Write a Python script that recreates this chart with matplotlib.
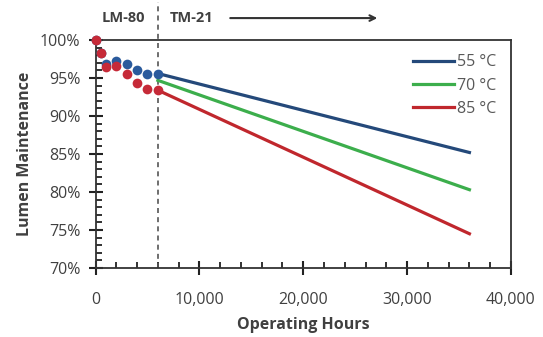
import matplotlib.pyplot as plt
from matplotlib.ticker import MultipleLocator, FuncFormatter

plt.rcParams['font.family'] = ['Open Sans', 'DejaVu Sans']

# LM-80 measured points
hours_lm80 = [0, 500, 1000, 2000, 3000, 4000, 5000, 6000]
lm_55 = [100, 98.3, 96.9, 97.3, 96.8, 96.05, 95.6, 95.6]
lm_85 = [100, 98.3, 96.4, 96.6, 95.6, 94.3, 93.55, 93.4]

# TM-21 projections
hours_tm21 = [6000, 36000]
tm_55 = [95.6, 85.2]
tm_70 = [94.7, 80.3]
tm_85 = [93.4, 74.5]

labels = ['55 °C', '70 °C', '85 °C']
blue = '#24497a'
green = '#3cae4c'
red = '#c0272d'
dark = '#404040'

fig = plt.figure(figsize=(5.43, 3.37), dpi=100)
ax = fig.add_axes([0.176, 0.205, 0.765, 0.676])

ax.plot(hours_tm21, tm_55, color=blue, lw=2.3, label=labels[0], zorder=3)
ax.plot(hours_tm21, tm_70, color=green, lw=2.3, label=labels[1], zorder=3)
ax.plot(hours_tm21, tm_85, color=red, lw=2.3, label=labels[2], zorder=3)
ax.plot(hours_lm80, lm_55, 'o', color='#2a5a9c', ms=7, mec='none', zorder=4, clip_on=False)
ax.plot(hours_lm80, lm_85, 'o', color='#c62a38', ms=7, mec='none', zorder=5, clip_on=False)

ax.set_xlim(0, 40000)
ax.set_ylim(70, 100)
ax.xaxis.set_major_locator(MultipleLocator(10000))
ax.xaxis.set_minor_locator(MultipleLocator(2000))
ax.yaxis.set_major_locator(MultipleLocator(5))
ax.yaxis.set_minor_locator(MultipleLocator(1))
ax.xaxis.set_major_formatter(FuncFormatter(lambda v, p: f'{int(v):,}'))
ax.yaxis.set_major_formatter(FuncFormatter(lambda v, p: f'{int(v)}%'))

ax.tick_params(which='major', direction='inout', length=10, width=1.5,
               color='#222222', labelsize=11.5, labelcolor=dark)
ax.tick_params(which='minor', direction='in', length=4.5, width=1.3, color='#222222')
ax.tick_params(axis='x', which='major', pad=12)
ax.tick_params(axis='y', which='major', pad=6)
for s in ax.spines.values():
    s.set_color('#333333')
    s.set_linewidth(1.3)

# LM-80 / TM-21 divider
ax.plot([6000, 6000], [70, 105], color='#555555', lw=1.2, ls=(0, (3, 2.5)),
        clip_on=False, zorder=2)
ax.text(2650, 102.9, 'LM-80', ha='center', va='center', fontsize=10.5,
        fontweight='bold', color=dark)
ax.text(9200, 102.9, 'TM-21', ha='center', va='center', fontsize=10.5,
        fontweight='bold', color=dark)
ax.annotate('', xy=(27400, 102.9), xytext=(12700, 102.9),
            arrowprops=dict(arrowstyle='->', color='#333333', lw=1.5),
            annotation_clip=False)

ax.set_xlabel('Operating Hours', fontsize=11.5, fontweight='bold', color=dark, labelpad=7)
ax.set_ylabel('Lumen Maintenance', fontsize=11.5, fontweight='bold', color=dark, labelpad=5)

leg = ax.legend(loc='upper right', frameon=False, fontsize=11.5, handlelength=2.6,
                handletextpad=0.2, labelspacing=0.45, borderaxespad=0.5)
for t in leg.get_texts():
    t.set_color('#595959')

fig.savefig('out.png', dpi=100)
